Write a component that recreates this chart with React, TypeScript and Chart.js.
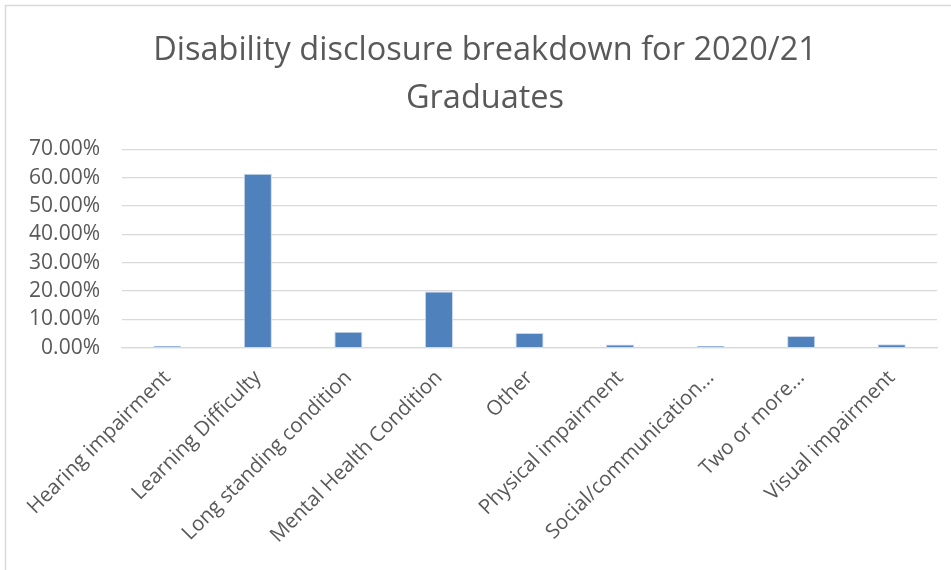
import React, { useEffect, useRef } from "react";
import { Chart, registerables } from "chart.js";

Chart.register(...registerables);

const categories = [
  "Hearing impairment",
  "Learning Difficulty",
  "Long standing condition",
  "Mental Health Condition",
  "Other",
  "Physical impairment",
  "Social/communication...",
  "Two or more...",
  "Visual impairment",
];
const shares = [0.7, 61.4, 5.6, 19.8, 5.2, 1.1, 0.6, 4.1, 1.2];
const titleLines = ["Disability disclosure breakdown for 2020/21", "Graduates"];
const yMax = 70;
const yStep = 10;

const framePlugin = {
  id: "frameAndTitle",
  beforeDraw(chart: any) {
    const ctx = chart.ctx;
    ctx.save();
    ctx.fillStyle = "#ffffff";
    ctx.fillRect(0, 0, chart.width, chart.height);
    ctx.strokeStyle = "#d9d9d9";
    ctx.lineWidth = 1.5;
    ctx.beginPath();
    ctx.moveTo(5.5, chart.height);
    ctx.lineTo(5.5, 5.5);
    ctx.lineTo(chart.width, 5.5);
    ctx.stroke();
    ctx.fillStyle = "#595959";
    ctx.font = "32.5px 'Open Sans'";
    ctx.textAlign = "center";
    ctx.textBaseline = "middle";
    titleLines.forEach((line, i) => {
      ctx.fillText(line, 485, 50.5 + i * 48.1);
    });
    ctx.restore();
  },
};

export default function App() {
  const ref = useRef<HTMLCanvasElement | null>(null);
  useEffect(() => {
    if (!ref.current) return;
    const chart = new Chart(ref.current, {
      type: "bar",
      data: {
        labels: categories,
        datasets: [
          {
            data: shares,
            backgroundColor: "#4F81BD",
            borderColor: "#c9d7ea",
            borderWidth: 1,
            categoryPercentage: 1,
            barPercentage: 0.31,
          },
        ],
      },
      plugins: [framePlugin],
      options: {
        responsive: false,
        animation: false,
        layout: { padding: { left: 0, right: 14, top: 149.3, bottom: 0 } },
        plugins: {
          legend: { display: false },
          tooltip: { enabled: false },
          title: { display: false },
        },
        scales: {
          x: {
            grid: { display: false, drawTicks: false },
            border: { display: true, color: "#d9d9d9", width: 1.3 },
            ticks: {
              autoSkip: false,
              minRotation: 45,
              maxRotation: 45,
              padding: 18,
              color: "#595959",
              font: { family: "'Open Sans'", size: 20.5 },
            },
            afterFit(scale: any) {
              scale.height = 222.3;
            },
          },
          y: {
            min: 0,
            max: yMax,
            grid: { color: "#d9d9d9", lineWidth: 1.3, drawTicks: false },
            border: { display: false },
            ticks: {
              stepSize: yStep,
              padding: 22,
              color: "#595959",
              font: { family: "'Open Sans'", size: 21 },
              callback: (v: any) => Number(v).toFixed(2) + "%",
            },
            afterFit(scale: any) {
              scale.width = 122;
            },
          },
        },
      },
    });
    return () => chart.destroy();
  }, []);
  return (
    <div style={{ position: "absolute", left: 0, top: 0, width: 951, height: 570 }}>
      <canvas ref={ref} width={951} height={570} style={{ width: 951, height: 570 }} />
    </div>
  );
}
